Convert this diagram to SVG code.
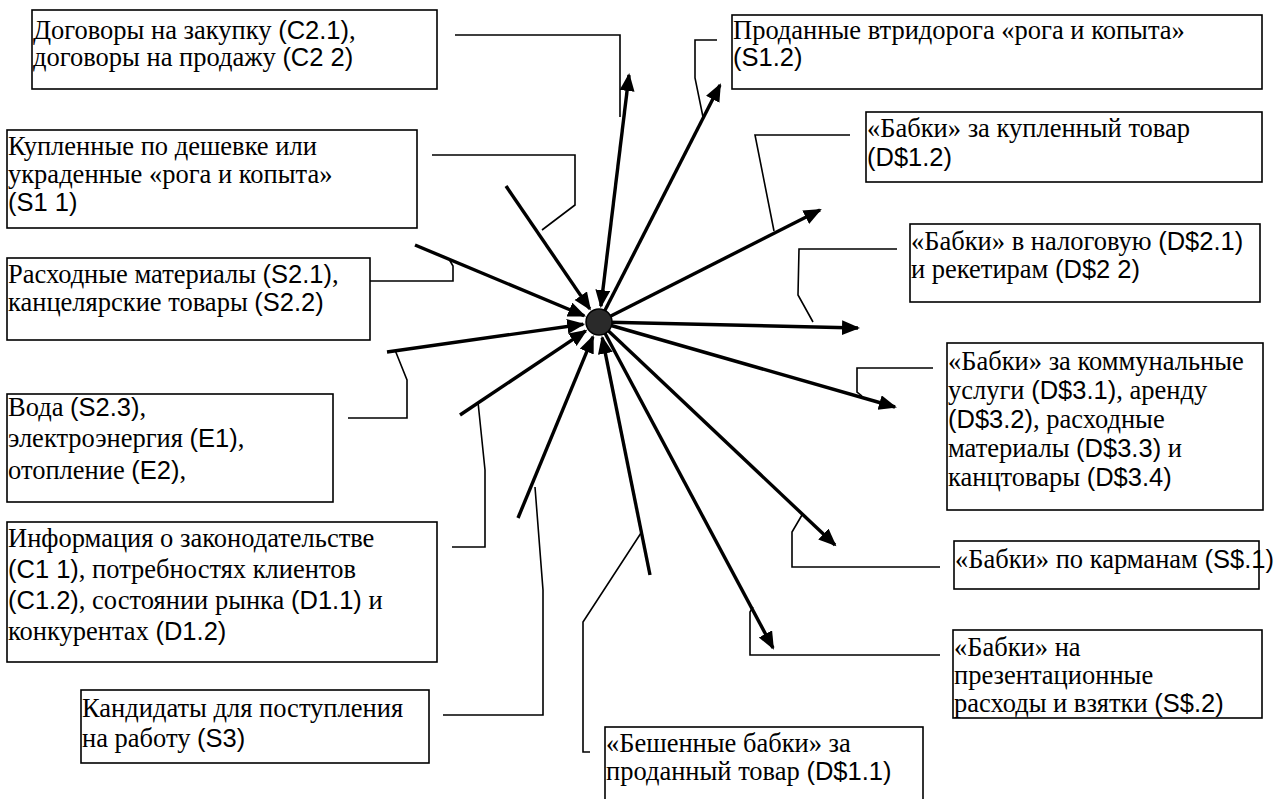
<svg xmlns="http://www.w3.org/2000/svg" width="1274" height="799" viewBox="0 0 1274 799">
<style>
.box{fill:#fff;stroke:#000;stroke-width:1.6}
text{font-family:'Liberation Serif','Times New Roman',serif;font-size:26.5px;fill:#000}
tspan.c{font-family:'Liberation Sans',Arial,sans-serif;font-size:25.5px}
.ar{stroke:#000;stroke-width:3.4;fill:none;marker-end:url(#ah)}
.bi{stroke:#000;stroke-width:3.4;fill:none;marker-end:url(#ah);marker-start:url(#ah)}
.ld{stroke:#000;stroke-width:1.6;fill:none}
</style>
<defs>
<marker id="ah" markerUnits="userSpaceOnUse" markerWidth="22" markerHeight="18" refX="16" refY="7.5" orient="auto-start-reverse">
<path d="M0,0 L18,7.5 L0,15 z" fill="#000"/>
</marker>
</defs>
<rect width="1274" height="799" fill="#fff"/>
<g id="connectors">
<g id="leaders">
<polyline class="ld" points="455,35 620,35 620,117"/>
<polyline class="ld" points="432,155 575,155 575,205 542,230"/>
<polyline class="ld" points="367,281 453,281 453,266 449,259"/>
<polyline class="ld" points="348,418 407,418 407,380 395,350"/>
<polyline class="ld" points="452,547 485,547 485,470 478,402"/>
<polyline class="ld" points="443,715 543,715 543,590 535,487"/>
<polyline class="ld" points="590,752 583,752 583,622 641,533"/>
<polyline class="ld" points="717,40 695,40 695,78 703,117"/>
<polyline class="ld" points="850,135 755,135 774,231"/>
<polyline class="ld" points="897,249 799,249 798,295 813,322"/>
<polyline class="ld" points="933,368 857,368 857,392 862,396"/>
<polyline class="ld" points="940,567 792,567 792,532 802,515"/>
<polyline class="ld" points="940,655 750,655 750,612 753,607"/>
</g>
<g id="arrows">
<line class="ar" x1="506" y1="186" x2="589.8" y2="308.9"/>
<line class="ar" x1="415" y1="245" x2="584.2" y2="315.8"/>
<line class="ar" x1="387" y1="352" x2="583.2" y2="324.2"/>
<line class="ar" x1="460" y1="415" x2="585.7" y2="330.9"/>
<line class="ar" x1="518" y1="518" x2="592.9" y2="336.8"/>
<line class="ar" x1="650" y1="575" x2="602.2" y2="337.7"/>
<line class="bi" x1="600.9" y1="306.1" x2="629" y2="75"/>
<line class="ar" x1="599" y1="322" x2="720" y2="85"/>
<line class="ar" x1="599" y1="322" x2="820" y2="210"/>
<line class="ar" x1="599" y1="322" x2="858" y2="328"/>
<line class="ar" x1="599" y1="322" x2="895" y2="407"/>
<line class="ar" x1="599" y1="322" x2="835" y2="545"/>
<line class="ar" x1="599" y1="322" x2="773" y2="648"/>
</g>
</g>
<g id="center">
<circle cx="599" cy="322" r="13" fill="#2a2a2a" stroke="#000" stroke-width="1.5"/>
</g>
<g id="n-c2">
<rect class="box" x="32" y="10" width="405" height="79"/>
<text x="33" y="39">Договоры на закупку <tspan class="c">(C2.1)</tspan>,</text>
<text x="33" y="66">договоры на продажу <tspan class="c">(C2 2)</tspan></text>
</g>
<g id="n-s11">
<rect class="box" x="7" y="130" width="410" height="98"/>
<text x="8" y="155">Купленные по дешевке или</text>
<text x="8" y="183">украденные «рога и копыта»</text>
<text x="8" y="211"><tspan class="c">(S1 1)</tspan></text>
</g>
<g id="n-s2">
<rect class="box" x="7" y="258" width="363" height="82"/>
<text x="8" y="283">Расходные материалы <tspan class="c">(S2.1)</tspan>,</text>
<text x="8" y="311">канцелярские товары <tspan class="c">(S2.2)</tspan></text>
</g>
<g id="n-e">
<rect class="box" x="7" y="394" width="326" height="108"/>
<text x="8" y="416">Вода <tspan class="c">(S2.3)</tspan>,</text>
<text x="8" y="447">электроэнергия <tspan class="c">(E1)</tspan>,</text>
<text x="8" y="479">отопление <tspan class="c">(E2)</tspan>,</text>
</g>
<g id="n-c1">
<rect class="box" x="7" y="522" width="430" height="140"/>
<text x="8" y="547">Информация о законодательстве</text>
<text x="8" y="578"><tspan class="c">(C1 1)</tspan>, потребностях клиентов</text>
<text x="8" y="609"><tspan class="c">(C1.2)</tspan>, состоянии рынка <tspan class="c">(D1.1)</tspan> и</text>
<text x="8" y="640">конкурентах <tspan class="c">(D1.2)</tspan></text>
</g>
<g id="n-s3">
<rect class="box" x="81" y="690" width="348" height="73"/>
<text x="82" y="717">Кандидаты для поступления</text>
<text x="82" y="747">на работу <tspan class="c">(S3)</tspan></text>
</g>
<g id="n-s12">
<rect class="box" x="732" y="15" width="530" height="74"/>
<text x="733" y="39">Проданные втридорога «рога и копыта»</text>
<text x="733" y="66"><tspan class="c">(S1.2)</tspan></text>
</g>
<g id="n-d12">
<rect class="box" x="866" y="112" width="396" height="70"/>
<text x="867" y="137">«Бабки» за купленный товар</text>
<text x="867" y="166"><tspan class="c">(D$1.2)</tspan></text>
</g>
<g id="n-d2">
<rect class="box" x="910" y="224" width="350" height="78"/>
<text x="911" y="250">«Бабки» в налоговую <tspan class="c">(D$2.1)</tspan></text>
<text x="911" y="278">и рекетирам <tspan class="c">(D$2 2)</tspan></text>
</g>
<g id="n-d3">
<rect class="box" x="947" y="343" width="316" height="167"/>
<text x="948" y="370">«Бабки» за коммунальные</text>
<text x="948" y="399">услуги <tspan class="c">(D$3.1)</tspan>, аренду</text>
<text x="948" y="428"><tspan class="c">(D$3.2)</tspan>, расходные</text>
<text x="948" y="457">материалы <tspan class="c">(D$3.3)</tspan> и</text>
<text x="948" y="486">канцтовары <tspan class="c">(D$3.4)</tspan></text>
</g>
<g id="n-s1">
<rect class="box" x="954" y="541" width="305" height="48"/>
<text x="955" y="568">«Бабки» по карманам <tspan class="c" font-size="24">(S$.1)</tspan></text>
</g>
<g id="n-s22">
<rect class="box" x="953" y="630" width="309" height="88"/>
<text x="954" y="656">«Бабки» на</text>
<text x="954" y="684">презентационные</text>
<text x="954" y="712">расходы и взятки <tspan class="c">(S$.2)</tspan></text>
</g>
<g id="n-d11">
<rect class="box" x="605" y="727" width="318" height="80"/>
<text x="606" y="752">«Бешенные бабки» за</text>
<text x="606" y="780">проданный товар <tspan class="c">(D$1.1)</tspan></text>
</g>
</svg>
